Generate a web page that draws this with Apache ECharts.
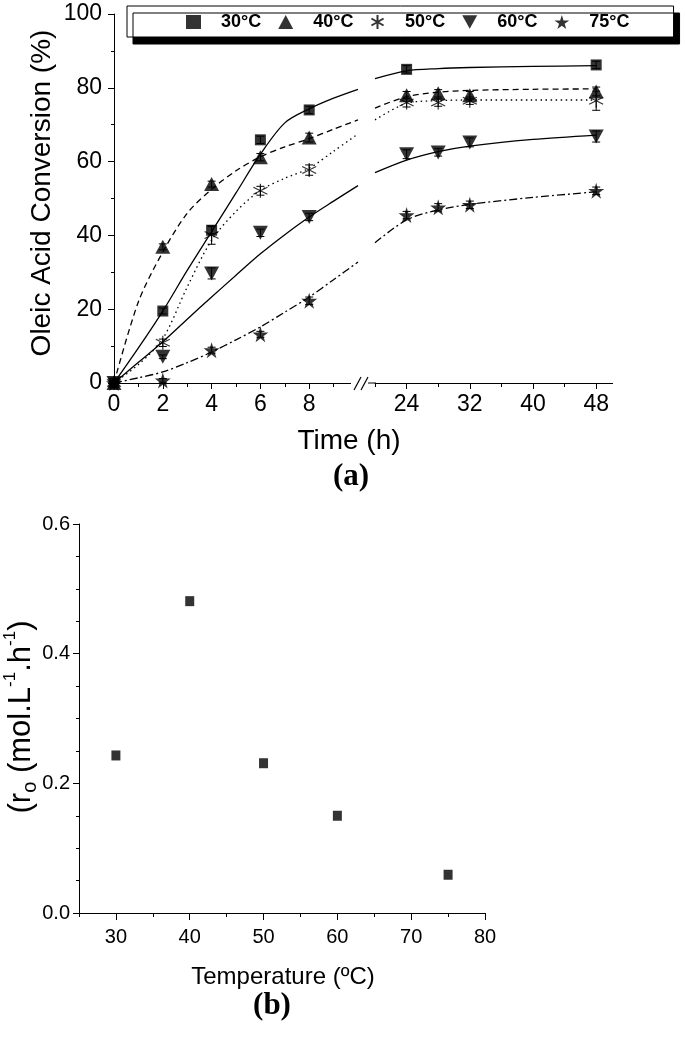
<!DOCTYPE html>
<html><head><meta charset="utf-8">
<script src="https://cdn.jsdelivr.net/npm/echarts@6/dist/echarts.min.js"></script>
<style>html,body{margin:0;padding:0;background:#fff}#c{width:685px;height:1037px}</style>
</head><body><div id="c"></div>
<script>
// ---------- DATA (a) ----------
const seriesNames = ['30°C', '40°C', '50°C', '60°C', '75°C'];
const timesPts = [0, 2, 4, 6, 8, 24, 28, 32, 48];
const conv30 = [0, 19.5, 41.4, 65.9, 74.0, 85.0, null, null, 86.2];
const conv40 = [0, 36.9, 53.9, 61.2, 66.5, 78.0, 78.5, 78.0, 79.0];
const conv50 = [0, 10.9, 40.1, 52.1, 57.7, 76.0, 76.0, 76.5, 76.5];
const conv60 = [0, 7.1, 29.7, 40.7, 45.0, 62.0, 62.5, 65.2, 66.8];
const conv75 = [0, 0.7, 8.9, 13.2, 22.3, 45.5, 47.6, 48.3, 52.1];
const err30 = [0, 0.8, 1.0, 1.0, 1.0, 1.0, 0, 0, 1.0];
const err40 = [0, 0.8, 0.8, 1.0, 1.2, 1.0, 1.0, 1.0, 1.2];
const err50 = [0, 1.0, 2.5, 1.2, 1.4, 1.2, 1.0, 1.0, 2.6];
const err60 = [0, 0.5, 1.5, 1.0, 1.0, 1.2, 1.0, 1.2, 1.5];
const err75 = [0, 0.5, 0.8, 0.8, 1.0, 1.0, 1.0, 1.0, 1.0];

const fitTimesLeft = [0, 1, 2, 3, 4, 5, 6, 7, 8, 9, 10];
const fitTimesRight = [20, 24, 28, 32, 40, 48];
const fit30Left = [0, 9.5, 19.5, 30.5, 41, 51.5, 62, 70.5, 74.3, 77.2, 79.6];
const fit30Right = [82.5, 84.6, 85.2, 85.5, 85.8, 86.0];
const fit40Left = [0, 22, 35.5, 46, 52.5, 57.5, 61.3, 64, 66.2, 68.8, 71.3];
const fit40Right = [74.5, 77.6, 78.8, 79.3, 79.6, 79.7];
const fit50Left = [0, 5, 12, 26, 38.7, 46.5, 52.2, 55.5, 58.2, 62.8, 67.5];
const fit50Right = [71.3, 75.8, 76.5, 76.7, 76.7, 76.7];
const fit60Left = [0, 5.6, 11.2, 17.3, 23.3, 29.2, 35, 40.2, 45, 49.3, 53.5];
const fit60Right = [57, 60.4, 62.7, 64.2, 66, 67.2];
const fit75Left = [0, 1.4, 3.0, 5.5, 8.4, 11.7, 15.2, 19.2, 23.3, 28, 32.8];
const fit75Right = [38, 44.2, 46.9, 48.4, 50.3, 51.8];

const xLabelsLeft = [0, 2, 4, 6, 8];
const xLabelsRight = [24, 32, 40, 48];

// ---------- DATA (b) ----------
const temperatures = [30, 40, 50, 60, 75];
const initialRate = [0.243, 0.481, 0.231, 0.150, 0.059];
const xLabelsBottom = [30, 40, 50, 60, 70, 80];

// ---------- build ----------
const convAll = [conv30, conv40, conv50, conv60, conv75];
const errAll = [err30, err40, err50, err60, err75];
const fitLeftAll = [fit30Left, fit40Left, fit50Left, fit60Left, fit75Left];
const fitRightAll = [fit30Right, fit40Right, fit50Right, fit60Right, fit75Right];
const lineTypes = ['solid', [6, 4], [1.5, 3.5], 'solid', [8, 3, 2, 3]];
const symbols = [
  {symbol: 'rect', size: 11},
  {symbol: 'triangle', size: [15, 14]},
  {symbol: 'path://M5,0 L5,10 M0.67,2.5 L9.33,7.5 M0.67,7.5 L9.33,2.5', size: 14, stroke: true},
  {symbol: 'path://M0,0 L10,0 L5,9 Z', size: [15, 14]},
  {symbol: 'path://M50,0 L61,35 L98,35 L68,57 L79,91 L50,70 L21,91 L32,57 L2,35 L39,35 Z', size: 16}
];
const FONT = '"Liberation Sans", Arial, sans-serif';
const SERIF = '"Liberation Serif", "Times New Roman", serif';

function pts(times, vals, left) {
  const out = [];
  times.forEach((t, i) => {
    if (vals[i] == null) return;
    if (left ? t <= 10 : t >= 20) out.push([t, vals[i]]);
  });
  return out;
}

const series = [];
seriesNames.forEach((name, k) => {
  const ls = {color: '#000', width: 1.3, type: lineTypes[k]};
  series.push({type: 'line', name: 'fit' + k + 'L', xAxisIndex: 0, yAxisIndex: 0,
    data: fitTimesLeft.map((t, i) => [t, fitLeftAll[k][i]]), showSymbol: false, symbol: 'none',
    smooth: 0.3, lineStyle: ls, z: 2, silent: true});
  series.push({type: 'line', name: 'fit' + k + 'R', xAxisIndex: 1, yAxisIndex: 1,
    data: fitTimesRight.map((t, i) => [t, fitRightAll[k][i]]), showSymbol: false, symbol: 'none',
    smooth: 0.3, lineStyle: ls, z: 2, silent: true});
  const st = symbols[k];
  const itemStyle = st.stroke
    ? {color: 'rgba(0,0,0,0)', borderColor: '#000', borderWidth: 1.2}
    : {color: '#000'};
  [true, false].forEach(left => {
    series.push({type: 'scatter', name: name, xAxisIndex: left ? 0 : 1, yAxisIndex: left ? 0 : 1,
      data: pts(timesPts, convAll[k], left), symbol: st.symbol, symbolSize: st.size,
      itemStyle: itemStyle, z: 4});
  });
});

function errData(left) {
  const out = [];
  convAll.forEach((vals, k) => {
    timesPts.forEach((t, i) => {
      if (vals[i] == null || !errAll[k][i]) return;
      if (left ? t <= 10 : t >= 20) out.push([t, vals[i], errAll[k][i]]);
    });
  });
  return out;
}
function renderErr(params, api) {
  const x = api.value(0), y = api.value(1), e = api.value(2);
  const a = api.coord([x, y + e]), b = api.coord([x, y - e]);
  const st = {stroke: '#000', lineWidth: 1};
  return {type: 'group', children: [
    {type: 'line', shape: {x1: a[0], y1: a[1], x2: b[0], y2: b[1]}, style: st},
    {type: 'line', shape: {x1: a[0] - 4, y1: a[1], x2: a[0] + 4, y2: a[1]}, style: st},
    {type: 'line', shape: {x1: b[0] - 4, y1: b[1], x2: b[0] + 4, y2: b[1]}, style: st}
  ]};
}
series.push({type: 'custom', xAxisIndex: 0, yAxisIndex: 0, data: errData(true), renderItem: renderErr, z: 3, silent: true});
series.push({type: 'custom', xAxisIndex: 1, yAxisIndex: 1, data: errData(false), renderItem: renderErr, z: 3, silent: true});

// bottom chart
series.push({type: 'scatter', name: 'rate', xAxisIndex: 3, yAxisIndex: 3,
  data: temperatures.map((t, i) => [t, initialRate[i]]), symbol: 'rect', symbolSize: [9, 10],
  itemStyle: {color: '#000'}});

// geometry
const topY = 14, plotH = 369;
const gA = {left: 114, top: topY, width: 244, height: plotH};
const gB = {left: 375, top: topY, width: 237, height: plotH};
const scB = gB.width / 30;
const gB2 = {left: gB.left + 4 * scB, top: topY, width: 24 * scB, height: plotH};
const gC = {left: 79, top: 524, width: 406, height: 389};
const scC = gC.width / 55;
const gC2 = {left: gC.left + 5 * scC, top: gC.top, width: 50 * scC, height: gC.height};

const axLine = {show: true, lineStyle: {color: '#000', width: 1}};
const tickOut = (len) => ({show: true, inside: false, length: len, lineStyle: {color: '#000', width: 1}});
const minor = (n, len) => ({show: true, splitNumber: n, length: len, lineStyle: {color: '#000', width: 1}});
const noSplit = {show: false};

const option = {
  animation: false,
  backgroundColor: '#fff',
  legend: {
    data: seriesNames,
    left: 127, top: 6,
    padding: [7, 44, 6, 59],
    itemGap: 17, itemWidth: 15, itemHeight: 14,
    formatter: n => '   ' + n,
    backgroundColor: '#fff', borderColor: '#000', borderWidth: 1,
    shadowColor: '#000', shadowOffsetX: 6, shadowOffsetY: 7, shadowBlur: 0,
    textStyle: {fontFamily: FONT, fontWeight: 'bold', fontSize: 18, color: '#000'},
    selectedMode: false
  },
  grid: [gA, gB, gB2, gC, gC2].map(g => Object.assign({containLabel: false}, g)),
  xAxis: [
    {gridIndex: 0, type: 'value', min: 0, max: 10, interval: 2,
      axisLine: axLine, axisTick: tickOut(6), minorTick: minor(2, 4), splitLine: noSplit, minorSplitLine: noSplit,
      axisLabel: {margin: 10, fontFamily: FONT, fontSize: 23, color: '#000',
        formatter: v => xLabelsLeft.includes(v) ? String(v) : ''}},
    {gridIndex: 1, type: 'value', min: 20, max: 50, interval: 4,
      axisLine: axLine, axisTick: tickOut(4), splitLine: noSplit, axisLabel: {show: false}},
    {gridIndex: 2, type: 'value', min: 24, max: 48, interval: 8,
      axisLine: {show: false}, axisTick: tickOut(6), splitLine: noSplit,
      axisLabel: {margin: 10, fontFamily: FONT, fontSize: 23, color: '#000',
        formatter: v => xLabelsRight.includes(v) ? String(v) : ''}},
    {gridIndex: 3, type: 'value', min: 25, max: 80, interval: 5,
      axisLine: axLine, axisTick: tickOut(4), splitLine: noSplit, axisLabel: {show: false}},
    {gridIndex: 4, type: 'value', min: 30, max: 80, interval: 10,
      axisLine: {show: false}, axisTick: tickOut(7), splitLine: noSplit,
      axisLabel: {margin: 14, fontFamily: FONT, fontSize: 20, color: '#000',
        formatter: v => xLabelsBottom.includes(v) ? String(v) : ''}}
  ],
  yAxis: [
    {gridIndex: 0, type: 'value', min: 0, max: 100, interval: 20,
      axisLine: axLine, axisTick: tickOut(6), minorTick: minor(2, 3), splitLine: noSplit, minorSplitLine: noSplit,
      axisLabel: {margin: 12, fontFamily: FONT, fontSize: 23, color: '#000'}},
    {gridIndex: 1, type: 'value', min: 0, max: 100, show: false},
    {gridIndex: 2, type: 'value', min: 0, max: 100, show: false},
    {gridIndex: 3, type: 'value', min: 0, max: 0.6, interval: 0.2,
      axisLine: axLine, axisTick: tickOut(6), minorTick: minor(4, 3), splitLine: noSplit, minorSplitLine: noSplit,
      axisLabel: {margin: 9, fontFamily: FONT, fontSize: 20, color: '#000', formatter: v => v.toFixed(1)}},
    {gridIndex: 4, type: 'value', min: 0, max: 0.6, show: false}
  ],
  graphic: [
    // axis break cover and slashes
    {type: 'rect', shape: {x: 351, y: 378, width: 21, height: 14}, style: {fill: '#fff'}, z: 50},
    {type: 'rect', shape: {x: 608, y: 384, width: 9, height: 8}, style: {fill: '#fff'}, z: 50},
    {type: 'line', shape: {x1: 354, y1: 390, x2: 361, y2: 377}, style: {stroke: '#000', lineWidth: 1.2}, z: 51},
    {type: 'line', shape: {x1: 361, y1: 390, x2: 368, y2: 377}, style: {stroke: '#000', lineWidth: 1.2}, z: 51},
    {type: 'line', shape: {x1: 368, y1: 383, x2: 376, y2: 383}, style: {stroke: '#000', lineWidth: 1}, z: 51},
    // texts
    {type: 'text', x: 42, y: 193, rotation: Math.PI / 2,
      style: {text: 'Oleic Acid Conversion (%)', font: '28px ' + FONT, fill: '#000', align: 'center', verticalAlign: 'middle'}},
    {type: 'text', x: 349, y: 441,
      style: {text: 'Time (h)', font: '28px ' + FONT, fill: '#000', align: 'center', verticalAlign: 'middle'}},
    {type: 'text', x: 351, y: 477,
      style: {text: '(a)', font: 'bold 31px ' + SERIF, fill: '#000', align: 'center', verticalAlign: 'middle'}},
    {type: 'text', x: 21, y: 717, rotation: Math.PI / 2,
      style: {text: '{a|(r}{s|o}{a| (mol.L}{p|-1}{a|.h}{p|-1}{a|)}', align: 'center', verticalAlign: 'middle',
        rich: {
          a: {fontFamily: FONT, fontSize: 31, lineHeight: 38, fill: '#000', color: '#000', verticalAlign: 'middle'},
          s: {fontFamily: FONT, fontSize: 20, lineHeight: 18, fill: '#000', color: '#000', verticalAlign: 'bottom'},
          p: {fontFamily: FONT, fontSize: 17, lineHeight: 17, fill: '#000', color: '#000', verticalAlign: 'top'}
        }}},
    {type: 'text', x: 283, y: 977,
      style: {text: 'Temperature (ºC)', font: '24px ' + FONT, fill: '#000', align: 'center', verticalAlign: 'middle'}},
    {type: 'text', x: 272, y: 1006,
      style: {text: '(b)', font: 'bold 31px ' + SERIF, fill: '#000', align: 'center', verticalAlign: 'middle'}}
  ],
  series: series
};

const chart = echarts.init(document.getElementById('c'), null, {renderer: 'canvas'});
chart.setOption(option);
</script>
</body></html>
